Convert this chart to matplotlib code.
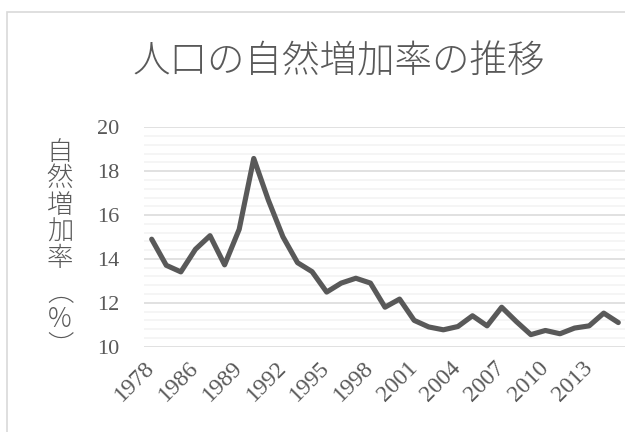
import matplotlib
matplotlib.use("Agg")
import matplotlib.pyplot as plt
from matplotlib.patches import Rectangle
from matplotlib.ticker import MultipleLocator, FixedLocator

years = ["1978", "1980", "1985"] + [str(y) for y in range(1986, 2016)]
values = [14.90, 13.71, 13.41, 14.44, 15.06, 13.73, 15.35, 18.58, 16.68, 15.01,
          13.83, 13.42, 12.49, 12.90, 13.12, 12.90, 11.80, 12.17, 11.20, 10.90,
          10.77, 10.92, 11.41, 10.95, 11.80, 11.15, 10.55, 10.74, 10.59, 10.85,
          10.95, 11.53, 11.10]
title = "人口の自然増加率の推移"
ylabel_chars = ["自", "然", "増", "加", "率", "︵", "%", "︶"]
yticks = [10, 12, 14, 16, 18, 20]

W, H = 625, 432
fig = plt.figure(figsize=(W / 100, H / 100), dpi=100)
fig.patch.set_facecolor("white")

cjk = ["Noto Sans CJK JP", "DejaVu Sans"]
serif = ["Liberation Serif", "DejaVu Serif"]
gray = "#595959"

# chart-area border
fig.patches.append(Rectangle((7 / W, -0.1), 1.2, 1 - 12 / H + 0.1,
                             transform=fig.transFigure, fill=False,
                             edgecolor="#d9d9d9", linewidth=1.2))

left, right = 144.4, 625.6
top, bottom = 127.3, 346.7
ax = fig.add_axes([left / W, 1 - bottom / H, (right - left) / W, (bottom - top) / H])

x = list(range(len(years)))
ax.plot(x, values, color=gray, linewidth=3.7, solid_joinstyle="round",
        solid_capstyle="round", zorder=3, clip_on=False)

ax.set_xlim(-0.5, len(years) - 0.5)
ax.set_ylim(10, 20)

ax.yaxis.set_major_locator(FixedLocator(yticks))
ax.yaxis.set_minor_locator(MultipleLocator(0.4))
ax.grid(which="major", axis="y", color="#d9d9d9", linewidth=1.1)
ax.grid(which="minor", axis="y", color="#f2f2f2", linewidth=1.1)
ax.set_axisbelow(True)
for s in ax.spines.values():
    s.set_visible(False)

ax.set_yticks(yticks)
ax.set_yticklabels([str(t) for t in yticks], fontsize=16, color=gray,
                   family=serif)
ax.tick_params(axis="y", which="both", length=0, pad=18)

tick_idx = list(range(0, len(years), 3))
ax.set_xticks(tick_idx)
ax.set_xticklabels([years[i] for i in tick_idx], fontsize=17, color=gray,
                   family=serif, rotation=45, ha="right", va="center",
                   rotation_mode="anchor")
ax.tick_params(axis="x", which="both", length=0, pad=13)
for lbl in ax.get_xticklabels():
    lbl.set_x(lbl.get_position()[0])

fig.text(338.5 / W, 1 - 62 / H, title, fontsize=27, color=gray,
         family=cjk, fontweight="light", ha="center", va="center")

y0 = 152
step = 26.5
for i, ch in enumerate(ylabel_chars):
    fig.text(60 / W, 1 - (y0 + i * step + (8 if i >= 5 else 0)) / H, ch,
             fontsize=19, color=gray, family=cjk, fontweight="light",
             ha="center", va="center")

fig.savefig("out.png", dpi=100, facecolor="white")
